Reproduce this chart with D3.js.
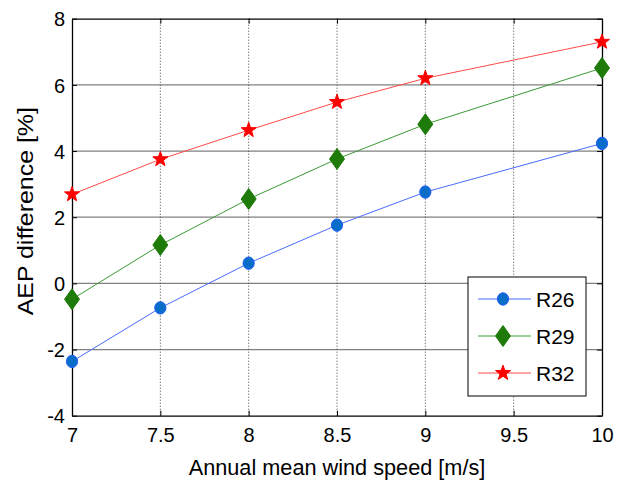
<!DOCTYPE html>
<html>
<head>
<meta charset="utf-8">
<script src="https://cdn.jsdelivr.net/npm/d3@7"></script>
<style>
  body { margin: 0; background: #fff; }
  svg { display: block; }
  text { font-family: "Liberation Sans", Arial, sans-serif; fill: #000; }
</style>
</head>
<body>
<svg id="chart" width="624" height="482"></svg>
<script>
// Wind speeds (m/s) and AEP difference (%) per rotor
const windSpeeds = [7, 7.5, 8, 8.5, 9, 10];
const r26 = [-2.36, -0.74, 0.61, 1.76, 2.76, 4.23];
const r29 = [-0.48, 1.16, 2.55, 3.76, 4.81, 6.51];
const r32 = [2.69, 3.75, 4.63, 5.48, 6.20, 7.30];
const xTicks = [7, 7.5, 8, 8.5, 9, 9.5, 10];
const yTicks = [-4, -2, 0, 2, 4, 6, 8];

const series = [
  { name: "R26", values: r26, line: "#4a6cff", fill: "#0a6ec8", stroke: "#1f5cff", shape: "circle" },
  { name: "R29", values: r29, line: "#3c9a34", fill: "#1e7b0a", stroke: "#1e7b0a", shape: "diamond" },
  { name: "R32", values: r32, line: "#ff4a4a", fill: "#ff0000", stroke: "#ff0000", shape: "star" }
];

const svg = d3.select("#chart");
const L = 72, R = 602, T = 18.7, B = 415.7;

const x = d3.scaleLinear().domain([7, 10]).range([L, R]);
const y = d3.scaleLinear().domain([-4, 8]).range([B, T]);

// plain hyphen for negative tick labels
const fmt = d => String(d);

// grid
const g = svg.append("g");
g.selectAll("line.hg").data(yTicks.slice(1, -1)).join("line")
  .attr("x1", L).attr("x2", R)
  .attr("y1", d => y(d)).attr("y2", d => y(d))
  .attr("stroke", "#808080").attr("stroke-width", 1.2);
g.selectAll("line.vg").data(xTicks.slice(1, -1)).join("line")
  .attr("y1", T).attr("y2", B)
  .attr("x1", d => x(d)).attr("x2", d => x(d))
  .attr("stroke", "#444").attr("stroke-width", 1)
  .attr("stroke-dasharray", "1,2");

// axes with inward ticks on all four sides
const tickLen = 5;
const axB = svg.append("g").attr("transform", `translate(0,${B})`)
  .call(d3.axisBottom(x).tickValues(xTicks).tickSizeInner(-tickLen).tickSizeOuter(0).tickPadding(12)
    .tickFormat(fmt));
const axL = svg.append("g").attr("transform", `translate(${L},0)`)
  .call(d3.axisLeft(y).tickValues(yTicks).tickSizeInner(-tickLen).tickSizeOuter(0).tickPadding(7)
    .tickFormat(fmt));
const axT = svg.append("g").attr("transform", `translate(0,${T})`)
  .call(d3.axisTop(x).tickValues(xTicks).tickSizeInner(-tickLen).tickSizeOuter(0).tickFormat(""));
const axR = svg.append("g").attr("transform", `translate(${R},0)`)
  .call(d3.axisRight(y).tickValues(yTicks).tickSizeInner(-tickLen).tickSizeOuter(0).tickFormat(""));
[axB, axL, axT, axR].forEach(a => {
  a.select(".domain").attr("stroke", "#000").attr("stroke-width", 1.3);
  a.selectAll(".tick line").attr("stroke", "#000");
});
axB.selectAll("text").attr("font-size", 20).attr("font-family", "Liberation Sans, Arial, sans-serif");
axL.selectAll("text").attr("font-size", 20).attr("font-family", "Liberation Sans, Arial, sans-serif")
  .attr("dy", "0.36em");

// axis titles
svg.append("text").attr("x", (L + R) / 2).attr("y", 475)
  .attr("text-anchor", "middle").attr("font-size", 21.7)
  .text("Annual mean wind speed [m/s]");
svg.append("text").attr("transform", `translate(33,${(T + B) / 2 - 6}) rotate(-90) scale(1.16,1)`)
  .attr("text-anchor", "middle").attr("font-size", 21.5)
  .text("AEP difference [%]");

// marker shapes
function starPath(ro, ri) {
  const pts = [];
  for (let k = 0; k < 10; k++) {
    const r = k % 2 ? ri : ro;
    const a = -Math.PI / 2 + k * Math.PI / 5;
    pts.push([r * Math.cos(a), r * Math.sin(a)]);
  }
  return "M" + pts.map(p => p.join(",")).join("L") + "Z";
}
function drawMarker(sel, s) {
  if (s.shape === "circle") {
    sel.append("ellipse").attr("rx", 5.6).attr("ry", 6.2)
      .attr("fill", s.fill).attr("stroke", s.stroke).attr("stroke-width", 1);
  } else if (s.shape === "diamond") {
    sel.append("path").attr("d", "M0,-10.5L7.5,0L0,10.5L-7.5,0Z")
      .attr("fill", s.fill).attr("stroke", s.stroke).attr("stroke-width", 1);
  } else {
    sel.append("path").attr("d", starPath(7.9, 3.2))
      .attr("fill", s.fill).attr("stroke", s.stroke).attr("stroke-width", 1);
  }
}

const line = d3.line().x(d => x(d[0])).y(d => y(d[1]));
series.forEach(s => {
  const pts = windSpeeds.map((w, i) => [w, s.values[i]]);
  svg.append("path").datum(pts).attr("d", line)
    .attr("fill", "none").attr("stroke", s.line).attr("stroke-width", 1);
  pts.forEach(p => {
    const m = svg.append("g").attr("transform", `translate(${x(p[0])},${y(p[1])})`);
    drawMarker(m, s);
  });
});

// legend
const lg = svg.append("g");
lg.append("rect").attr("x", 468).attr("y", 277).attr("width", 118).attr("height", 119)
  .attr("fill", "#fff").attr("stroke", "#000").attr("stroke-width", 1);
series.forEach((s, i) => {
  const cy = 299 + i * 37;
  lg.append("line").attr("x1", 478).attr("x2", 531).attr("y1", cy).attr("y2", cy)
    .attr("stroke", s.line).attr("stroke-width", 1);
  const m = lg.append("g").attr("transform", `translate(503,${cy})`);
  drawMarker(m, s);
  lg.append("text").attr("x", 536).attr("y", cy).attr("dy", "0.36em")
    .attr("font-size", 21).text(s.name);
});
</script>
</body>
</html>
